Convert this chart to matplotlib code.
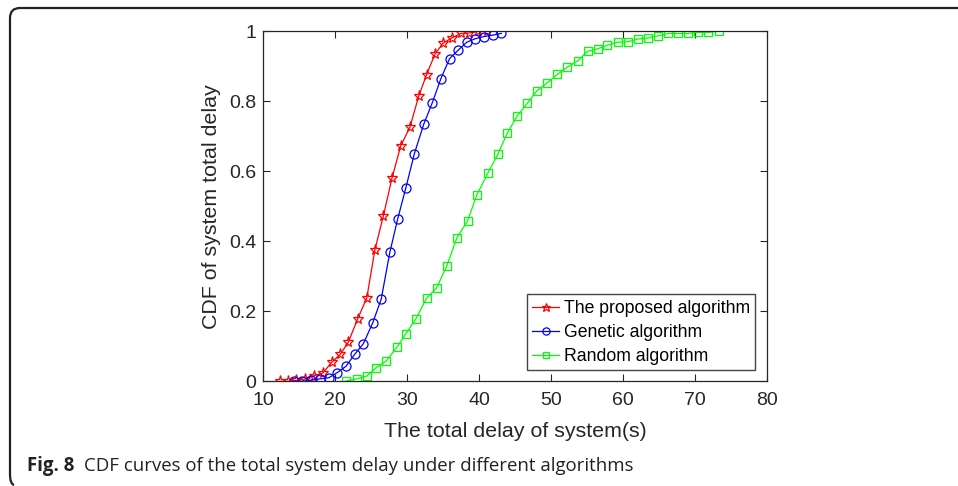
import numpy as np
import matplotlib
matplotlib.use('Agg')
import matplotlib.pyplot as plt
from matplotlib.path import Path
from matplotlib.patches import PathPatch

# delay values (s) and CDF values
proposed_x = [12.3, 13.5, 14.6, 15.8, 17.1, 18.3, 19.5, 20.7, 21.8, 23.1, 24.4, 25.5, 26.7,
              27.9, 29.1, 30.4, 31.6, 32.7, 33.9, 35.0, 36.2, 37.5, 38.6, 39.9, 41.1]
proposed_y = [0.0, 0.0, 0.003, 0.006, 0.016, 0.024, 0.054, 0.077, 0.111, 0.177, 0.239, 0.374, 0.473,
              0.581, 0.672, 0.727, 0.814, 0.876, 0.936, 0.966, 0.981, 0.994, 0.995, 1.0, 1.0]

genetic_x = [14.2, 15.4, 16.6, 17.9, 19.1, 20.3, 21.5, 22.7, 23.9, 25.2, 26.4, 27.6, 28.7,
             29.8, 31.0, 32.3, 33.5, 34.7, 35.9, 37.1, 38.3, 39.5, 40.7, 41.9, 43.1]
genetic_y = [0.0, 0.0, 0.003, 0.007, 0.01, 0.025, 0.043, 0.077, 0.107, 0.166, 0.235, 0.369, 0.465,
             0.551, 0.650, 0.734, 0.796, 0.865, 0.922, 0.946, 0.969, 0.979, 0.985, 0.989, 0.994]

random_x = [21.5, 23.0, 24.4, 25.7, 27.1, 28.6, 29.8, 31.2, 32.7, 34.1, 35.5, 36.9, 38.4,
            39.7, 41.2, 42.6, 43.9, 45.3, 46.7, 48.0, 49.5, 50.9, 52.3, 53.7, 55.1, 56.5,
            57.8, 59.3, 60.7, 62.1, 63.5, 64.9, 66.3, 67.7, 69.1, 70.5, 71.9, 73.3]
random_y = [0.001, 0.007, 0.015, 0.039, 0.058, 0.098, 0.135, 0.178, 0.237, 0.267, 0.329, 0.409, 0.458,
            0.533, 0.594, 0.648, 0.708, 0.758, 0.794, 0.829, 0.853, 0.877, 0.898, 0.915, 0.943, 0.950,
            0.960, 0.969, 0.970, 0.978, 0.981, 0.987, 0.994, 0.994, 0.994, 0.997, 0.997, 1.0]

labels = ['The proposed algorithm', 'Genetic algorithm', 'Random algorithm']
caption_bold = 'Fig. 8'
caption_text = 'CDF curves of the total system delay under different algorithms'

plt.rcParams['font.family'] = ['Liberation Sans', 'DejaVu Sans']

W, H = 958, 486
fig = plt.figure(figsize=(W / 100, H / 100), dpi=100)
ax = fig.add_axes([263.3 / W, 1 - 381.3 / H, 503.4 / W, 350 / H])

ax.plot(proposed_x, proposed_y, '-*', color='red', lw=0.9, ms=8, mfc='none', mew=0.9, label=labels[0])
ax.plot(genetic_x, genetic_y, '-o', color='blue', lw=0.9, ms=6.5, mfc='none', mew=0.9, label=labels[1])
ax.plot(random_x, random_y, '-s', color='#00ff00', lw=0.9, ms=5.5, mfc='none', mew=0.9, label=labels[2])

ax.set_xlim(10, 80)
ax.set_ylim(0, 1)
ax.set_xticks(np.arange(10, 81, 10))
ax.set_yticks([0, 0.2, 0.4, 0.6, 0.8, 1])
ax.set_yticklabels(['0', '0.2', '0.4', '0.6', '0.8', '1'])
ax.tick_params(direction='in', length=5, width=0.8, top=True, right=True,
               labelsize=14, colors='#262626')
ax.tick_params(axis='x', pad=8)
ax.tick_params(axis='y', pad=5)
for s in ax.spines.values():
    s.set_color('#262626')
    s.set_linewidth(0.9)

ax.set_xlabel('The total delay of system(s)', fontsize=15.4, color='#262626', labelpad=9)
ax.set_ylabel('CDF of system total delay', fontsize=15.4, color='#262626', labelpad=6)

leg = ax.legend(loc='lower right', bbox_to_anchor=(0.977, 0.032), borderaxespad=0,
                fontsize=12.7, fancybox=False, edgecolor='#444444', framealpha=1,
                handlelength=1.55, handletextpad=0.25, borderpad=0.3, labelspacing=0.4,
                markerscale=0.8)
leg.get_frame().set_linewidth(1.0)

# outer frame with rounded corners (top + left edge)
r = 10
verts = [(W, H - 8), (10 + r, H - 8), (10, H - 8), (10, H - 8 - r),
         (10, 2 + r), (10, 2), (10 + r * 0.4, 1)]
codes = [Path.MOVETO, Path.LINETO, Path.CURVE3, Path.CURVE3,
         Path.LINETO, Path.CURVE3, Path.CURVE3]
frame = PathPatch(Path(verts, codes), transform=None, fill=False, lw=1.6, edgecolor='#222222')
fig.patches.append(frame)

fig.text(27 / W, 1 - 466 / H, caption_bold, fontsize=13.4, fontweight='bold',
         family=['Open Sans', 'DejaVu Sans'], va='center', ha='left', color='#222222')
fig.text(84 / W, 1 - 466 / H, caption_text, fontsize=13.4,
         family=['Open Sans', 'DejaVu Sans'], va='center', ha='left', color='#222222')

fig.savefig('out.png', dpi=100)
